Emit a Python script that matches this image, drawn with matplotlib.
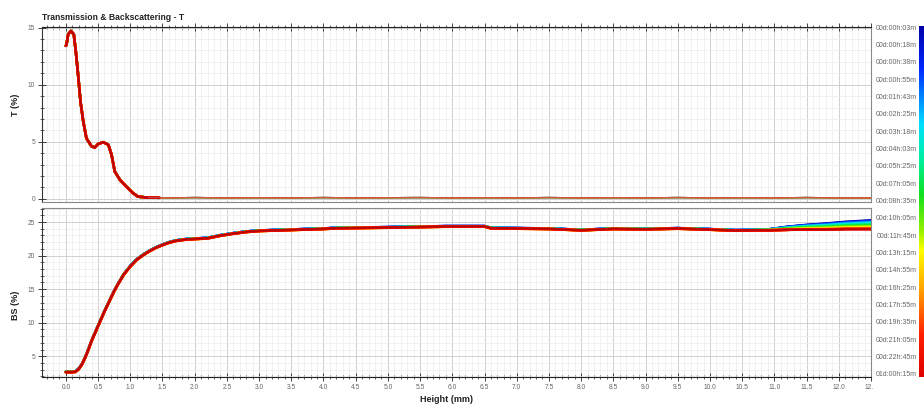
import numpy as np
import matplotlib
matplotlib.use('Agg')
import matplotlib.pyplot as plt
from matplotlib.colors import LinearSegmentedColormap
from matplotlib.transforms import Bbox, TransformedBbox

plt.rcParams['font.family'] = ['Liberation Sans', 'DejaVu Sans']

# scan times (colour scale, earliest first)
time_labels = ['00d:00h:03m', '00d:00h:18m', '00d:00h:38m', '00d:00h:55m', '00d:01h:43m',
               '00d:02h:25m', '00d:03h:18m', '00d:04h:03m', '00d:05h:25m', '00d:07h:05m',
               '00d:08h:35m', '00d:10h:05m', '00d:11h:45m', '00d:13h:15m', '00d:14h:55m',
               '00d:16h:25m', '00d:17h:55m', '00d:19h:35m', '00d:21h:05m', '00d:22h:45m',
               '01d:00h:15m']

# transmission profile, peak region (same for all scans)
t_x = [0.0, 0.01, 0.036, 0.078, 0.124, 0.155, 0.19, 0.228, 0.27, 0.32, 0.40, 0.45, 0.50,
       0.58, 0.66, 0.71, 0.76, 0.84, 0.94, 1.045, 1.12, 1.28, 1.45]
t_y = [13.4, 13.5, 14.4, 14.7, 14.4, 12.9, 10.9, 8.5, 6.8, 5.3, 4.6, 4.5, 4.8,
       4.97, 4.74, 3.86, 2.4, 1.67, 1.08, 0.5, 0.2, 0.11, 0.1]
# transmission, flat part near zero
t_flat_x = [1.28, 1.6, 2.0, 2.5, 3.0, 3.5, 4.0, 4.5, 5.0, 5.5, 6.0, 6.5, 7.0, 7.5, 8.0,
            8.5, 9.0, 9.5, 10.0, 10.5, 11.0, 11.5, 12.0, 12.5]
t_flat_y = [0.11, 0.1, 0.12, 0.1, 0.11, 0.1, 0.12, 0.1, 0.11, 0.12, 0.1, 0.11, 0.1, 0.12,
            0.1, 0.11, 0.1, 0.12, 0.1, 0.11, 0.1, 0.12, 0.1, 0.1]

# backscattering profile, common part
bs_x = [0.0, 0.1, 0.15, 0.2, 0.25, 0.3, 0.35, 0.4, 0.45, 0.5, 0.55, 0.6, 0.65, 0.7, 0.75,
        0.8, 0.85, 0.9, 0.95, 1.0, 1.1, 1.2, 1.3, 1.4, 1.5, 1.6, 1.7, 1.8, 1.9, 2.0, 2.2,
        2.4, 2.6, 2.8, 3.0, 3.5, 4.0, 4.2, 5.0, 5.9, 6.5, 6.6, 7.5, 8.0, 8.5, 9.0, 9.5,
        10.0, 10.4, 10.7]
bs_y = [2.65, 2.65, 2.7, 3.1, 3.8, 4.8, 6.0, 7.3, 8.4, 9.5, 10.6, 11.7, 12.7, 13.7, 14.7,
        15.6, 16.4, 17.2, 17.8, 18.4, 19.4, 20.1, 20.7, 21.2, 21.6, 21.95, 22.2, 22.35, 22.45,
        22.5, 22.6, 23.0, 23.3, 23.55, 23.7, 23.85, 24.0, 24.1, 24.2, 24.35, 24.35, 24.1,
        24.0, 23.8, 24.0, 23.95, 24.05, 23.9, 23.75, 23.8]

# top-of-sample part, one row per scan
tail_x = [10.9, 11.2, 11.5, 11.8, 12.1, 12.5]
bs_tail = [
    [23.85, 24.25, 24.53, 24.73, 24.98, 25.20],
    [23.85, 24.23, 24.50, 24.69, 24.93, 25.15],
    [23.85, 24.22, 24.48, 24.66, 24.89, 25.10],
    [23.84, 24.20, 24.45, 24.63, 24.85, 25.05],
    [23.84, 24.18, 24.41, 24.57, 24.79, 24.97],
    [23.84, 24.15, 24.38, 24.53, 24.73, 24.90],
    [23.84, 24.13, 24.34, 24.48, 24.67, 24.83],
    [23.83, 24.11, 24.30, 24.43, 24.61, 24.75],
    [23.83, 24.08, 24.26, 24.38, 24.54, 24.67],
    [23.82, 24.05, 24.21, 24.31, 24.46, 24.57],
    [23.82, 24.02, 24.16, 24.24, 24.38, 24.47],
    [23.82, 24.00, 24.13, 24.20, 24.32, 24.40],
    [23.82, 23.97, 24.09, 24.15, 24.26, 24.33],
    [23.81, 23.95, 24.05, 24.10, 24.20, 24.25],
    [23.81, 23.93, 24.02, 24.06, 24.15, 24.19],
    [23.81, 23.91, 23.99, 24.02, 24.10, 24.13],
    [23.80, 23.89, 23.96, 23.98, 24.05, 24.07],
    [23.80, 23.88, 23.94, 23.95, 24.02, 24.03],
    [23.80, 23.87, 23.93, 23.93, 23.99, 24.00],
    [23.80, 23.86, 23.91, 23.91, 23.97, 23.97],
    [23.80, 23.85, 23.90, 23.90, 23.95, 23.95],
]
# small level difference between scans
bs_shift = [0.06, 0.05, 0.05, 0.04, 0.04, 0.03, 0.03, 0.02, 0.01, 0.0, 0.0,
            -0.01, -0.02, -0.03, -0.04, -0.05, -0.05, -0.04, -0.03, -0.02, 0.0]

cmap = LinearSegmentedColormap.from_list('turbiscan', [
    (0.0, '#0000a8'), (0.12, '#0028ff'), (0.28, '#00e0ff'), (0.38, '#00f0a0'),
    (0.48, '#10e020'), (0.58, '#90f000'), (0.64, '#ffff00'), (0.76, '#ff9a00'),
    (0.88, '#ff2000'), (1.0, '#e00000')])

W, H = 924, 404
fig = plt.figure(figsize=(W / 100, H / 100), dpi=100)
ax1 = fig.add_axes([42 / W, 1 - 202 / H, (871 - 42) / W, (202 - 27) / H])
ax2 = fig.add_axes([42 / W, 1 - 377 / H, (871 - 42) / W, (377 - 208) / H])
cax = fig.add_axes([919 / W, 1 - 377 / H, 5 / W, (377 - 26) / H])

n = len(time_labels)
for i in range(n):
    c = cmap(i / (n - 1))
    ax1.plot(t_x, t_y, color=c, lw=1.8, solid_capstyle='round', zorder=3)
    ax1.plot(t_flat_x, t_flat_y, color=c, lw=0.9, alpha=0.35, zorder=3)
    ys = np.array(bs_y + bs_tail[i]) + bs_shift[i]
    ax2.plot(bs_x + tail_x, ys, color=c, lw=1.8, solid_capstyle='round', zorder=3)

# dark core of the last scan
ax1.plot(t_x, t_y, color='#6a1a10', lw=0.6, alpha=0.6, zorder=4)
ax1.plot(t_flat_x, t_flat_y, color='#c07878', lw=0.6, alpha=0.7, zorder=4)
ax2.plot(bs_x + tail_x, np.array(bs_y + bs_tail[-1]), color='#6a1a10', lw=0.6, alpha=0.6, zorder=4)

for ax in (ax1, ax2):
    ax.set_xlim(-0.37, 12.5)
    ax.set_xticks(np.arange(0, 12.51, 0.5))
    ax.set_xticks(np.arange(-0.3, 12.51, 0.1), minor=True)
    ax.grid(which='minor', color='#ebebeb', lw=0.5)
    ax.grid(which='major', color='#cacaca', lw=0.6)
    ax.set_axisbelow(True)
    ax.tick_params(which='major', direction='inout', length=6, width=0.6, color='#222',
                   labelsize=4.8, labelcolor='#666', pad=2)
    ax.tick_params(which='minor', direction='inout', length=3.5, width=0.5, color='#222')
    for s in ax.spines.values():
        s.set_color('#888')
        s.set_linewidth(0.8)
    ax.spines['left'].set_color('#333')

ax1.set_ylim(-0.27, 15.05)
ax1.set_yticks([0, 5, 10, 15])
ax1.set_yticks(np.arange(0, 15.1, 1), minor=True)
ax1.tick_params(axis='x', which='both', top=True, bottom=False, labelbottom=False)
ax1.spines['top'].set_color('#222')

ax2.set_ylim(1.9, 27.1)
ax2.set_yticks([5, 10, 15, 20, 25])
ax2.set_yticks(np.arange(2, 27.1, 1), minor=True)
ax2.set_xticklabels(['%.1f' % v for v in np.arange(0, 12.51, 0.5)])
ax2.spines['bottom'].set_color('#222')

# last tick label is cut at the plot edge
fig.canvas.draw()
clip = TransformedBbox(Bbox([[0, 0], [873 / W, 1]]), fig.transFigure)
for lbl in ax2.get_xticklabels():
    lbl.set_clip_box(clip)
    lbl.set_clip_on(True)

cax.imshow(np.linspace(0, 1, 256)[:, None], aspect='auto', cmap=cmap)
cax.axis('off')
for i, lab in enumerate(time_labels):
    y = 28 + i * (375 - 28) / (n - 1)
    fig.text(917 / W, 1 - y / H, lab, ha='right', va='center', fontsize=5, color='#666')

fig.text(42 / W, 1 - 18 / H, 'Transmission & Backscattering - T', fontsize=6.2,
         fontweight='bold', color='#222', va='center')
fig.text(16 / W, 1 - 105 / H, 'T (%)', rotation=90, fontsize=6.5, fontweight='bold',
         color='#222', ha='center', va='center')
fig.text(16 / W, 1 - 305 / H, 'BS (%)', rotation=90, fontsize=6.5, fontweight='bold',
         color='#222', ha='center', va='center')
fig.text(447 / W, 1 - 399 / H, 'Height (mm)', fontsize=6.5, fontweight='bold',
         color='#222', ha='center', va='center')

fig.savefig('out.png', dpi=100)
